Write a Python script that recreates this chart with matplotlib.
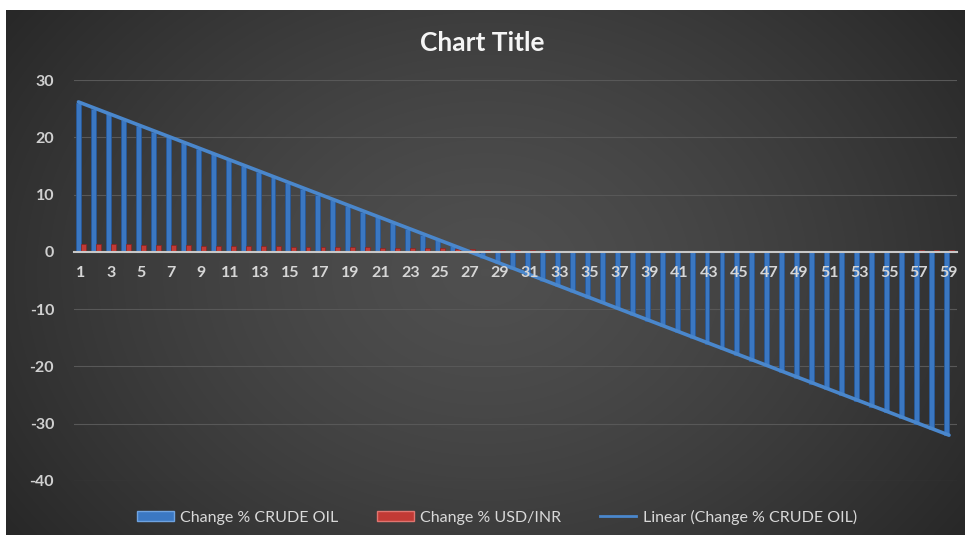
import numpy as np
import matplotlib
matplotlib.use("Agg")
import matplotlib.pyplot as plt
from matplotlib.patches import Patch
from matplotlib.lines import Line2D

plt.rcParams['font.family'] = ['Lato', 'DejaVu Sans']

categories = list(range(1, 60))
crude_oil = [26, 25, 24, 23, 22, 21, 20, 19, 18, 17, 16, 15, 14, 13, 12, 11, 10, 9, 8, 7,
             6, 5, 4, 3, 2, 1, 0, -1, -2, -3, -4, -5, -6, -7, -8, -9, -10, -11, -12, -13,
             -14, -15, -16, -17, -18, -19, -20, -21, -22, -23, -24, -25, -26, -27, -28, -29,
             -30, -31, -32]
usd_inr = [1.3, 1.3, 1.3, 1.3, 1.2, 1.2, 1.2, 1.2, 1.1, 1.1, 1.1, 1.1, 1.0, 1.0,
           0.9, 0.9, 0.9, 0.8, 0.8, 0.8, 0.7, 0.7, 0.7, 0.6, 0.6, 0.5, 0.5,
           0.4, 0.4, 0.4, 0.3, 0.3, 0.2, 0.2, 0.15, 0.1, 0.1, 0.1, 0.1,
           0.05, 0.05, 0.05, 0.05, 0.05, 0.05, 0.05, 0.05, 0.1, 0.1, 0.1, 0.1,
           0.15, 0.15, 0.2, 0.2, 0.2, 0.25, 0.25, 0.3]
y_ticks = [30, 20, 10, 0, -10, -20, -30, -40]
x_tick_labels = [str(c) for c in categories if c % 2 == 1]

W, H = 965, 535
fig = plt.figure(figsize=(W / 100, H / 100), dpi=100, facecolor='white')

# chart background (radial gradient)
bg = fig.add_axes([6 / W, 0, 1 - 6 / W, (H - 10) / H])
bg.set_axis_off()
yy, xx = np.mgrid[0:1:300j, 0:1:500j]
r = np.sqrt(((xx - 0.5) / 0.6) ** 2 + ((yy - 0.5) / 0.85) ** 2)
val = np.clip(0.31 - 0.15 * r ** 1.4, 0.14, 0.31)
img = np.dstack([val, val, val])
bg.imshow(img, aspect='auto', extent=[0, 1, 0, 1], interpolation='bilinear')
bg.set_xlim(0, 1)
bg.set_ylim(0, 1)

ax = fig.add_axes([73.5 / W, (H - 481) / H, (956.5 - 73.5) / W, (481 - 80) / H])
ax.patch.set_alpha(0)

x = np.array(categories, dtype=float)
bw = 0.33
ax.bar(x - 0.17, crude_oil, width=bw, color='#3a77c2', edgecolor='#27599a', linewidth=0.6,
       zorder=2, label='Change % CRUDE OIL')
ax.bar(x + 0.17, usd_inr, width=bw, color='#c23a35', edgecolor='#8a2320', linewidth=0.5,
       zorder=2, label='Change % USD/INR')

coef = np.polyfit(x, crude_oil, 1)
xt = np.array([x[0] - 0.17, x[-1]])
ax.plot(xt, np.polyval(coef, xt), color='#4a87cc', lw=2.6, zorder=3,
        solid_capstyle='round')

ax.set_xlim(0.5, 59.5)
ax.set_ylim(-40, 30)
ax.set_yticks(y_ticks)
ax.set_yticklabels([str(v) for v in y_ticks], fontweight='bold', fontsize=11.5, color='#d0d0d0')
for v in y_ticks:
    if v != 0:
        ax.axhline(v, color='#585858', lw=0.8, zorder=1)

for s in ['top', 'right', 'left']:
    ax.spines[s].set_visible(False)
ax.spines['bottom'].set_position(('data', 0))
ax.spines['bottom'].set_color('#c8c8c8')
ax.spines['bottom'].set_linewidth(1.5)
ax.spines['bottom'].set_zorder(5)
ax.xaxis.set_zorder(6)
ax.set_xticks([c for c in categories if c % 2 == 1])
ax.set_xticklabels(x_tick_labels, fontsize=11.5, fontweight='bold', color='#d6d6d6')
ax.tick_params(axis='x', length=0, pad=10)
ax.tick_params(axis='y', length=0, pad=14)

fig.text(0.5, (H - 43) / H, 'Chart Title', ha='center', va='center', fontsize=19,
         fontweight='bold', color='#f5f5f5')

handles = [Patch(facecolor='#3b78c3', edgecolor='#6fa3e0'),
           Patch(facecolor='#c23a35', edgecolor='#e07570'),
           Line2D([0], [0], color='#4a87cc', lw=2)]
labels = ['Change % CRUDE OIL', 'Change % USD/INR', 'Linear (Change % CRUDE OIL)']
leg = fig.legend(handles, labels, loc='center', bbox_to_anchor=(497 / W, (H - 517) / H), ncol=3,
                 frameon=False, fontsize=11.5, handlelength=2.3, handleheight=0.55,
                 columnspacing=2.4, handletextpad=0.4)
for t in leg.get_texts():
    t.set_color('#d9d9d9')

fig.savefig('out.png', dpi=100, facecolor='white')
